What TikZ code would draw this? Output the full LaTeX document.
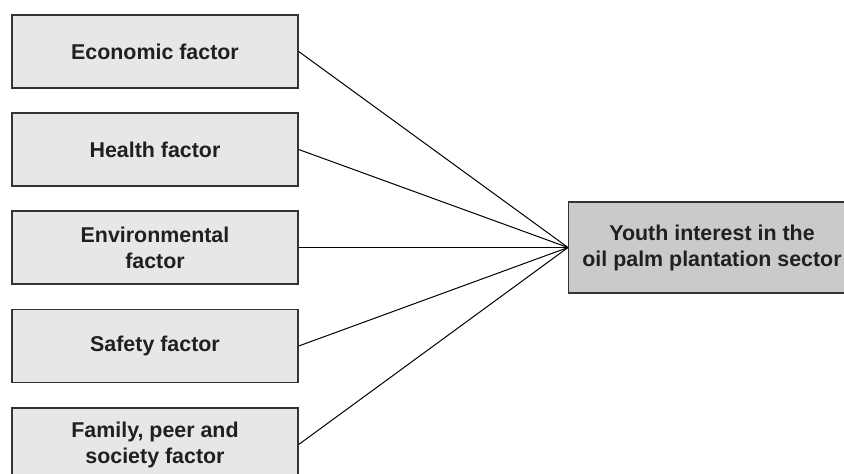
\documentclass[tikz,border=0pt]{standalone}
\usepackage{fontspec}
\setmainfont{Liberation Sans}
\definecolor{boxfill}{HTML}{E6E7E8}
\definecolor{mainfill}{HTML}{C9CACC}
\definecolor{boxline}{HTML}{333333}
\definecolor{txt}{HTML}{231F20}
\begin{document}
\begin{tikzpicture}[x=1pt,y=-1pt,
  factorbox/.style={draw=boxline,line width=1.4pt,fill=boxfill,minimum width=286pt,minimum height=73pt,inner sep=0pt,align=center,text=txt,font=\fontsize{21.4}{26}\selectfont\bfseries},
  mainbox/.style={factorbox,fill=mainfill,minimum width=300pt,minimum height=91pt},
  link/.style={draw=black,line width=1pt}]
\useasboundingbox (0,0) rectangle (844,474);
\clip (0,0) rectangle (844,474);
\node[factorbox] (f1) at (155,51.5) {Economic factor};
\node[factorbox] (f2) at (155,149.5) {Health factor};
\node[factorbox] (f3) at (155,247.5) {Environmental\\factor};
\node[factorbox] (f4) at (155,346) {Safety factor};
\node[factorbox] (f5) at (155,444.5) {Family, peer and\\society factor};
\node[mainbox,anchor=west] (m) at (568,247.5) {};
\node[text=txt,align=center,inner sep=0pt,font=\fontsize{21.4}{26}\selectfont\bfseries] (mt) at (712,248) {Youth interest in the\\oil palm plantation sector};
\foreach \i in {1,...,5}{\draw[link] (f\i.east) -- (m.west);}
\end{tikzpicture}
\end{document}
